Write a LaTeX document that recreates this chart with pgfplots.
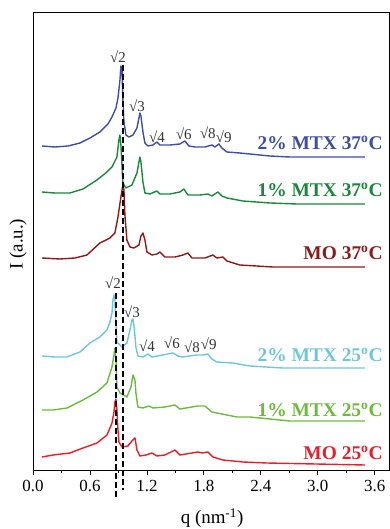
\documentclass[border=0pt]{standalone}
\usepackage{fontspec}
\setmainfont{Liberation Serif}
\usepackage{pgfplots}
\pgfplotsset{compat=1.18}
\definecolor{cblue}{RGB}{62,78,163}
\definecolor{cgreen}{RGB}{26,135,60}
\definecolor{cdred}{RGB}{140,26,26}
\definecolor{clblue}{RGB}{110,198,220}
\definecolor{clgreen}{RGB}{108,187,60}
\definecolor{cred}{RGB}{232,30,40}
\begin{document}
\begin{tikzpicture}
\begin{axis}[
  at={(33bp,59bp)}, anchor=south west,
  scale only axis, width=356bp, height=458bp,
  xmin=0, xmax=3.75, ymin=0, ymax=458,
  clip=false,
  xtick={0,0.6,1.2,1.8,2.4,3.0,3.6},
  xticklabels={0.0,0.6,1.2,1.8,2.4,3.0,3.6},
  minor xtick={0.3,0.9,1.5,2.1,2.7,3.3},
  ytick=\empty,
  xtick pos=bottom, tick align=outside,
  major tick length=5bp, minor tick length=3bp,
  tick style={black, line width=0.8bp},
  axis line style={line width=0.8bp},
  xticklabel style={font=\fontsize{17}{17}\selectfont, yshift=-2bp},
  xlabel={q (nm\textsuperscript{-1})},
  ylabel={I (a.u.)},
  xlabel style={font=\fontsize{19}{19}\selectfont, at={(rel axis cs:0.503,-0.105)}, anchor=center},
  ylabel style={font=\fontsize{19}{19}\selectfont, at={(rel axis cs:-0.042,0.493)}, anchor=center, rotate=0},
  every axis plot/.append style={line width=1.4bp, line join=round},
]
% 2% MTX 37
\addplot[cblue] coordinates {
(0.095,324)(0.232,323)(0.368,324)(0.495,327)(0.600,332)(0.705,338)(0.789,346)(0.832,353)(0.874,362)(0.895,372)(0.916,390)(0.926,404)(0.937,402)(0.947,370)(0.958,348)(0.979,335)(1.011,333)(1.053,335)(1.095,342)(1.116,352)(1.126,357)(1.137,354)(1.158,338)(1.179,327)(1.211,324)(1.263,325)(1.305,328)(1.337,325)(1.442,325)(1.547,326)(1.600,329)(1.642,324)(1.705,323)(1.811,323)(1.884,325)(1.916,323)(1.958,326)(1.989,322)(2.042,318)(2.179,317)(2.284,316)(2.495,314)(2.705,313)(3.021,313)(3.495,313)};
% 1% MTX 37
\addplot[cgreen] coordinates {
(0.095,278)(0.232,277)(0.389,277)(0.526,281)(0.674,290)(0.779,298)(0.832,303)(0.884,313)(0.905,330)(0.916,335)(0.926,325)(0.947,287)(0.979,282)(1.042,285)(1.095,297)(1.116,308)(1.126,313)(1.137,308)(1.158,288)(1.179,277)(1.232,276)(1.305,279)(1.337,276)(1.442,276)(1.547,278)(1.589,281)(1.632,275)(1.758,275)(1.842,276)(1.884,274)(1.947,278)(1.989,274)(2.042,272)(2.211,269)(2.495,267)(2.779,266)(3.495,266)};
% MO 37
\addplot[cdred] coordinates {
(0.095,212)(0.284,211)(0.442,212)(0.568,215)(0.705,227)(0.811,232)(0.863,237)(0.895,253)(0.926,273)(0.947,285)(0.958,280)(0.968,255)(0.989,230)(1.021,223)(1.063,222)(1.116,225)(1.137,234)(1.158,237)(1.179,230)(1.200,218)(1.253,215)(1.305,216)(1.337,218)(1.389,213)(1.495,213)(1.579,215)(1.632,217)(1.674,212)(1.811,212)(1.895,215)(1.937,212)(2.000,213)(2.042,209)(2.179,205)(2.526,203)(3.495,203)};
% 2% MTX 25
\addplot[clblue] coordinates {
(0.095,114)(0.232,113)(0.358,113)(0.495,118)(0.600,127)(0.705,133)(0.779,140)(0.811,148)(0.832,157)(0.842,170)(0.853,175)(0.863,170)(0.874,145)(0.884,128)(0.937,123)(0.989,127)(1.021,140)(1.042,150)(1.053,151)(1.063,145)(1.084,123)(1.105,114)(1.158,113)(1.211,116)(1.253,113)(1.368,115)(1.474,117)(1.526,114)(1.568,113)(1.726,115)(1.789,115)(1.842,116)(1.884,111)(1.937,108)(2.105,107)(2.284,104)(2.632,102)(3.495,102)};
% 1% MTX 25
\addplot[clgreen] coordinates {
(0.095,60)(0.211,60)(0.358,62)(0.526,70)(0.674,78)(0.779,87)(0.832,103)(0.853,115)(0.863,122)(0.874,110)(0.884,83)(0.916,77)(0.989,73)(1.032,83)(1.053,95)(1.074,90)(1.084,77)(1.105,63)(1.158,62)(1.221,64)(1.263,62)(1.389,63)(1.495,65)(1.547,61)(1.737,64)(1.811,64)(1.884,58)(1.989,56)(2.147,53)(2.284,53)(2.705,49)(3.495,49)};
% MO 25
\addplot[cred] coordinates {
(0.095,13)(0.211,15)(0.389,17)(0.526,22)(0.674,27)(0.779,35)(0.832,47)(0.853,58)(0.863,68)(0.874,71)(0.884,60)(0.895,40)(0.905,28)(0.937,23)(1.000,24)(1.042,29)(1.074,32)(1.095,20)(1.126,14)(1.189,15)(1.253,17)(1.305,14)(1.389,15)(1.495,20)(1.547,15)(1.737,18)(1.779,17)(1.842,18)(1.895,13)(2.000,10)(2.211,8)(2.463,7)(3.495,5)};
% dashed guides
\addplot[black, line width=2bp, dash pattern=on 6bp off 3bp] coordinates {(0.953,405)(0.953,-20)};
\addplot[black, line width=2bp, dash pattern=on 6bp off 3bp] coordinates {(0.874,177)(0.874,-27)};
% peak labels
\begin{scope}[every node/.style={font=\fontsize{15}{15}\selectfont, inner sep=0pt, text=black!80}]
\node at (axis cs:0.895,413) {√2};
\node at (axis cs:1.095,364) {√3};
\node at (axis cs:1.305,333) {√4};
\node at (axis cs:1.589,336) {√6};
\node at (axis cs:1.842,337) {√8};
\node at (axis cs:2.010,333) {√9};
\node at (axis cs:0.842,187) {√2};
\node at (axis cs:1.042,158) {√3};
\node at (axis cs:1.200,124) {√4};
\node at (axis cs:1.463,127) {√6};
\node at (axis cs:1.674,123) {√8};
\node at (axis cs:1.852,126) {√9};
\end{scope}
% sample labels
\begin{scope}[every node/.style={font=\fontsize{19.5}{19.5}\selectfont\bfseries, inner sep=0pt, anchor=east}]
\node[text=cblue] at (axis cs:3.684,327) {2\% MTX 37\textsuperscript{o}C};
\node[text=cgreen] at (axis cs:3.684,280) {1\% MTX 37\textsuperscript{o}C};
\node[text=cdred] at (axis cs:3.684,217) {MO 37\textsuperscript{o}C};
\node[text=clblue] at (axis cs:3.684,115) {2\% MTX 25\textsuperscript{o}C};
\node[text=clgreen] at (axis cs:3.684,60) {1\% MTX 25\textsuperscript{o}C};
\node[text=cred] at (axis cs:3.684,17) {MO 25\textsuperscript{o}C};
\end{scope}
\end{axis}
\pgfresetboundingbox
\useasboundingbox (0,0) rectangle (390bp,529bp);
\end{tikzpicture}
\end{document}
